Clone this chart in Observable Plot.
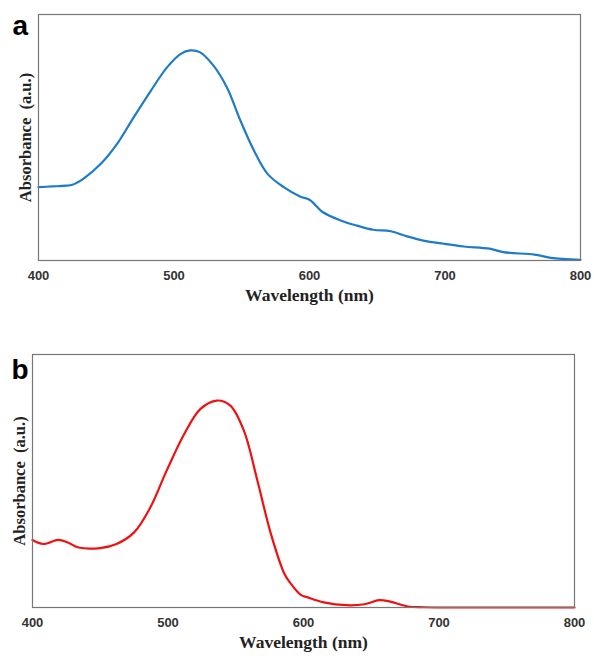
<!DOCTYPE html>
<html>
<head>
<meta charset="utf-8">
<script src="https://cdn.jsdelivr.net/npm/d3@7"></script>
<script src="https://cdn.jsdelivr.net/npm/@observablehq/plot@0.6"></script>
<style>
  html, body { margin: 0; padding: 0; background: #fff; }
  #wrap svg { display: block; }
</style>
</head>
<body>
<div id="wrap"></div>
<script>
// Panel a (blue spectrum)
const wavelengthA = [400,410,420,425,433,446,458,470,483,495,505,512,519,529,539,549,559,569,581,593,600,610,623,635,647,660,672,684,699,714,733,743,766,778,800];
const absorbanceA = [0.298,0.301,0.304,0.308,0.332,0.393,0.474,0.580,0.691,0.786,0.840,0.854,0.847,0.793,0.704,0.569,0.447,0.352,0.298,0.260,0.247,0.196,0.163,0.142,0.125,0.119,0.098,0.081,0.068,0.057,0.048,0.034,0.024,0.011,0.003];
// Panel b (red spectrum)
const wavelengthB = [400,408,419,426,434,450,462,475,487,499,512,524,536,546,556,566,576,586,590,598,603,615,632,645,656,664,677,689,720,760,800];
const absorbanceB = [0.267,0.251,0.267,0.257,0.237,0.235,0.251,0.297,0.396,0.541,0.686,0.785,0.818,0.798,0.699,0.501,0.290,0.132,0.099,0.050,0.040,0.020,0.009,0.013,0.029,0.023,0.004,0.001,0.0,0.0,0.0];
const xTicks = [400,500,600,700,800];
const panelLabels = ["a","b"];
const xTitle = "Wavelength (nm)";
const yTitle = "Absorbance  (a.u.)";

const dataA = wavelengthA.map((w,i) => ({w, a: absorbanceA[i]}));
const dataB = wavelengthB.map((w,i) => ({w, a: absorbanceB[i]}));

function panel(data, color, label, opts) {
  return Plot.plot({
    width: 594,
    height: opts.height,
    marginTop: opts.mt, marginBottom: opts.mb, marginLeft: opts.ml, marginRight: opts.mr,
    style: {fontFamily: "'Liberation Sans', Arial, sans-serif", background: "#fff", overflow: "visible"},
    x: {domain: [400, 800]},
    y: {domain: [0, 1], axis: null},
    marks: [
      Plot.axisX({ticks: xTicks, tickSize: 0, tickPadding: 10, label: null,
        fontSize: 13, fontWeight: "bold", fill: "#333"}),
      Plot.line(data, {x: "w", y: "a", stroke: color, strokeWidth: 2.2, curve: "catmull-rom"}),
      Plot.frame({stroke: "#777", strokeWidth: 1.2}),
      Plot.text([xTitle], {frameAnchor: "bottom", dy: 40, text: d => d,
        fontFamily: "'Liberation Serif', 'Times New Roman', serif", fontWeight: "bold", fontSize: 17.5, fill: "#222", letterSpacing: "0.8px"}),
      Plot.text([yTitle], {frameAnchor: "left", textAnchor: "middle", lineAnchor: "middle", dx: -13, rotate: -90, text: d => d,
        fontFamily: "'Liberation Serif', 'Times New Roman', serif", fontWeight: "bold", fontSize: 16.5, fill: "#222", letterSpacing: "2px"}),
      Plot.text([label], {frameAnchor: "top-left", dx: opts.ldx, dy: opts.ldy, text: d => d, textAnchor: "start",
        fontFamily: "'Liberation Sans', Arial, sans-serif", fontWeight: "bold", fontSize: 28, fill: "#000"})
    ]
  });
}

const wrap = document.getElementById("wrap");
wrap.appendChild(panel(dataA, "#1f7bc8", panelLabels[0], {height: 320, mt: 14, mb: 60, ml: 38, mr: 14, ldx: -26, ldy: 1}));
wrap.appendChild(panel(dataB, "#f01010", panelLabels[1], {height: 338, mt: 34, mb: 51, ml: 32, mr: 20, ldx: -21, ldy: 5}));
</script>
</body>
</html>
